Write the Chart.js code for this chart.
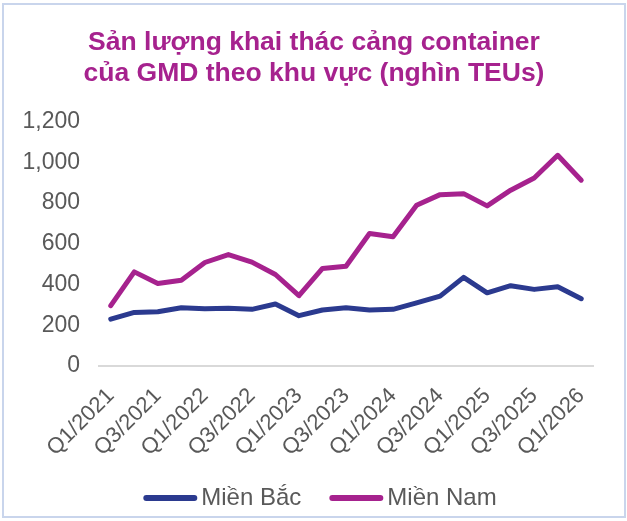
<!DOCTYPE html>
<html>
<head>
<meta charset="utf-8">
<script src="https://cdn.jsdelivr.net/npm/chart.js@4.4.1/dist/chart.umd.min.js"></script>
<style>
  html, body { margin: 0; padding: 0; background: #ffffff; }
  #wrap { position: relative; width: 627px; height: 521px; }
  #c { position: absolute; left: 0; top: 0; }
  #frame { position: absolute; left: 2px; top: 3px; width: 624px; height: 515px; border: 2px solid #c9d5ec; box-sizing: border-box; pointer-events: none; }
</style>
</head>
<body>
<div id="wrap">
  <canvas id="c" width="627" height="521"></canvas>
  <div id="frame"></div>
</div>
<script>
const titleLines = ["Sản lượng khai thác cảng container", "của GMD theo khu vực (nghìn TEUs)"];
const categories = ["Q1/2021","Q2/2021","Q3/2021","Q4/2021","Q1/2022","Q2/2022","Q3/2022","Q4/2022","Q1/2023","Q2/2023","Q3/2023","Q4/2023","Q1/2024","Q2/2024","Q3/2024","Q4/2024","Q1/2025","Q2/2025","Q3/2025","Q4/2025","Q1/2026"];
const mienBac = [230,263,266,286,281,283,278,304,247,275,286,275,278,310,343,435,359,394,376,389,330];
const mienNam = [296,462,405,421,508,547,510,449,345,479,490,650,634,789,841,846,786,863,923,1034,912];
const yTicks = [0,200,400,600,800,1000,1200];

const FONT = "'Liberation Sans', Arial, sans-serif";
const BLUE = "#2b3a8f";
const MAGENTA = "#a6228e";
const GREY = "#595959";

const titlePlugin = {
  id: 'twoLineTitle',
  afterDraw(chart) {
    const ctx = chart.ctx;
    ctx.save();
    ctx.font = "bold 26.5px " + FONT;
    ctx.fillStyle = MAGENTA;
    ctx.textAlign = 'center';
    ctx.textBaseline = 'alphabetic';
    ctx.fillText(titleLines[0], 314, 50);
    ctx.fillText(titleLines[1], 314, 81);
    ctx.restore();
  }
};

const legendPlugin = {
  id: 'lineLegend',
  afterDraw(chart) {
    const ctx = chart.ctx;
    const ds = chart.data.datasets;
    ctx.save();
    ctx.font = "24px " + FONT;
    const sample = 54, gapText = 4, gapItem = 28;
    const widths = ds.map(d => sample + gapText + ctx.measureText(d.label).width);
    const total = widths.reduce((a, b) => a + b, 0) + gapItem * (ds.length - 1);
    let x = 320 - total / 2;
    const y = 498;
    ds.forEach((d, i) => {
      ctx.strokeStyle = d.borderColor;
      ctx.lineWidth = 6;
      ctx.lineCap = 'round';
      ctx.beginPath();
      ctx.moveTo(x + 3, y);
      ctx.lineTo(x + sample - 3, y);
      ctx.stroke();
      ctx.fillStyle = GREY;
      ctx.textAlign = 'left';
      ctx.textBaseline = 'middle';
      ctx.fillText(d.label, x + sample + gapText, y);
      x += widths[i] + gapItem;
    });
    ctx.restore();
  }
};

new Chart(document.getElementById('c'), {
  type: 'line',
  data: {
    labels: categories,
    datasets: [
      { label: 'Miền Bắc', data: mienBac, borderColor: BLUE, backgroundColor: BLUE, borderWidth: 5, pointRadius: 0, tension: 0, borderCapStyle: 'round', borderJoinStyle: 'round' },
      { label: 'Miền Nam', data: mienNam, borderColor: MAGENTA, backgroundColor: MAGENTA, borderWidth: 5, pointRadius: 0, tension: 0, borderCapStyle: 'round', borderJoinStyle: 'round' }
    ]
  },
  options: {
    responsive: false,
    animation: false,
    devicePixelRatio: 1,
    layout: { padding: { top: 121.5, left: 2, right: 34, bottom: 0 } },
    plugins: {
      title: { display: false },
      tooltip: { enabled: false },
      legend: { display: false }
    },
    scales: {
      x: {
        offset: true,
        grid: { display: false },
        border: { display: true, color: '#d9d9d9', width: 2 },
        afterFit: (s) => { s.height = 155; },
        ticks: {
          autoSkip: false,
          minRotation: 45,
          maxRotation: 45,
          padding: 9,
          color: GREY,
          font: { family: FONT, size: 22 },
          callback: (v, i) => (i % 2 === 0 ? categories[i] : '')
        }
      },
      y: {
        min: 0,
        max: 1200,
        grid: { display: false },
        border: { display: false },
        afterFit: (s) => { s.width = 97; },
        afterBuildTicks: (s) => { s.ticks = yTicks.map(v => ({ value: v })); },
        ticks: {
          padding: 11,
          color: GREY,
          font: { family: FONT, size: 23 },
          callback: (v) => v.toLocaleString('en-US')
        }
      }
    }
  },
  plugins: [titlePlugin, legendPlugin]
});
</script>
</body>
</html>
